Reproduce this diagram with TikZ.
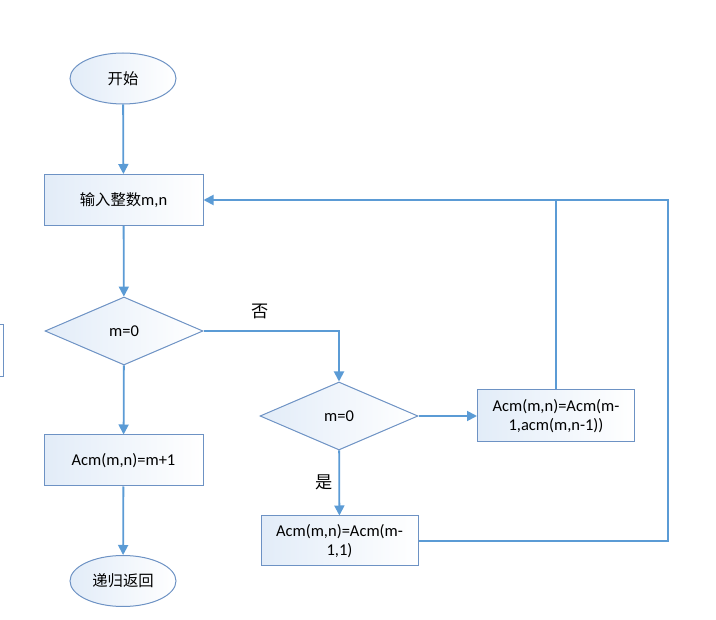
\documentclass[tikz,border=0pt]{standalone}
\usepackage{fontspec}
\setmainfont{Carlito}
\newfontfamily\cjk[Scale=0.93]{Noto Sans CJK SC}
\usetikzlibrary{shapes.geometric,arrows.meta}
\definecolor{lineblue}{RGB}{91,155,213}
\definecolor{borderblue}{RGB}{109,146,196}
\definecolor{fillblue}{RGB}{226,236,248}
\tikzset{
  shapebox/.style={draw=borderblue, line width=1pt, left color=fillblue, right color=white, inner sep=2pt, align=center, font=\fontsize{16.5}{19}\selectfont},
  procbox/.style={shapebox, rectangle, minimum width=159pt, minimum height=51pt},
  decbox/.style={shapebox, diamond, minimum width=158pt, minimum height=68pt, inner sep=0pt},
  termbox/.style={shapebox, ellipse, minimum width=106pt, minimum height=51pt, inner sep=0pt},
  conn/.style={draw=lineblue, line width=1.8pt},
  arr/.style={conn, -{Triangle[width=10pt,length=10pt]}},
  lbl/.style={font=\fontsize{18.5}{20}\selectfont\cjk, inner sep=0pt}
}
\begin{document}
\begin{tikzpicture}[x=1pt,y=-1pt]
\useasboundingbox (0,0) rectangle (716,620);
\node[termbox] (start) at (123,78.5) {\cjk 开始};
\node[procbox] (input) at (123.5,200) {{\cjk 输入整数}m,n};
\node[decbox] (d1) at (124,331) {m=0};
\node[decbox] (d2) at (339,416) {m=0};
\node[procbox, minimum width=157pt, minimum height=52pt] (b3) at (556,416) {Acm(m,n)=Acm(m-\\1,acm(m,n-1))};
\node[procbox, minimum width=157pt, minimum height=50pt] (b4) at (339.5,541) {Acm(m,n)=Acm(m-\\1,1)};
\node[procbox] (b5) at (123.5,460.5) {Acm(m,n)=m+1};
\node[termbox] (stop) at (123,581) {\cjk 递归返回};
\coordinate (c1) at (668,200);
\draw[draw=borderblue, line width=1pt] (-20,325) rectangle (3,377);
\draw[arr] (start) -- (input);
\draw[arr] (input) -- (d1);
\draw[arr] (d1.east) -| (d2.north);
\node[lbl] (no) at (260,311) {否};
\draw[arr] (d2) -- (b3);
\draw[arr] (d2) -- (b4);
\node[lbl] (yes) at (324,482) {是};
\draw[arr] (b4.east) -| (c1) -- (input.east);
\draw[conn] (b3.north) -- (b3.north |- input.east);
\draw[arr] (d1) -- (b5);
\draw[arr] (b5) -- (stop);
\end{tikzpicture}
\end{document}
